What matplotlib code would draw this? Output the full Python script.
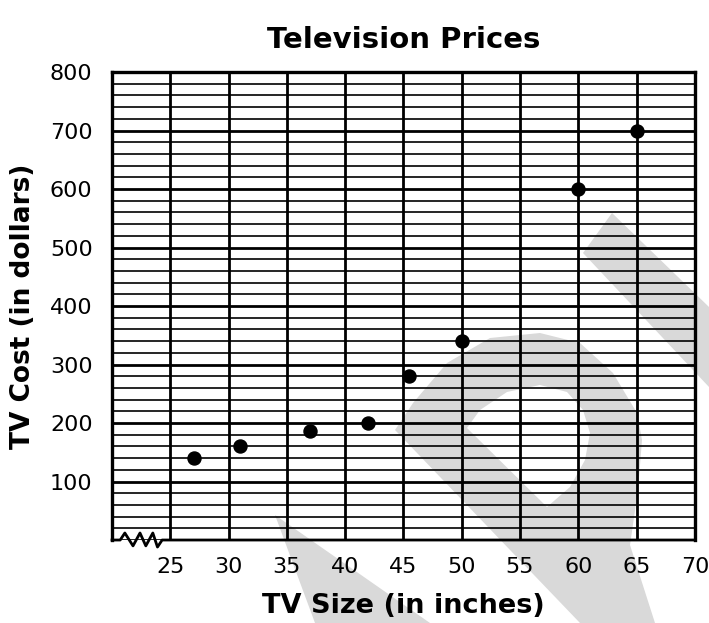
import matplotlib
matplotlib.use('Agg')
import matplotlib.pyplot as plt
from matplotlib.patches import Polygon

# data
tv_size = [27, 31, 37, 42, 45.5, 50, 60, 65]
tv_cost = [140, 160, 187, 200, 280, 340, 600, 700]

x_ticks = [25, 30, 35, 40, 45, 50, 55, 60, 65, 70]
y_ticks = [100, 200, 300, 400, 500, 600, 700, 800]

plt.rcParams['font.family'] = 'DejaVu Sans'

fig = plt.figure(figsize=(7.09, 6.23), dpi=100)
ax = fig.add_axes([0.158, 0.1332, 0.822, 0.7512])
ax.patch.set_alpha(0)

# light grey watermark behind the grid (image pixel coords)
def px(pts):
    return [(x / 709, 1 - y / 623) for x, y in pts]

wm = '#d9d9d9'
wedge_left = [(275, 515), (430, 623), (315, 623)]
band_right = [(583, 253), (612, 213), (709, 307), (709, 387)]
d_outer = [(580, 623), (395, 430), (413, 403), (447, 363), (490, 338), (540, 333),
           (580, 343), (613, 373), (637, 413), (642, 440), (638, 490), (630, 545), (655, 623)]
d_hole = [(467, 428), (480, 410), (507, 392), (540, 385), (567, 392), (583, 410),
          (590, 433), (585, 460), (570, 487), (547, 507)]
for pts, col in [(wedge_left, wm), (band_right, wm), (d_outer, wm), (d_hole, 'white')]:
    fig.patches.append(Polygon(px(pts), closed=True, facecolor=col, edgecolor='none',
                               transform=fig.transFigure, zorder=-1))

ax.scatter(tv_size, tv_cost, s=88, color='black', zorder=5)

ax.set_xlim(20, 70)
ax.set_ylim(0, 800)
ax.set_xticks(x_ticks)
ax.set_yticks(y_ticks)
ax.set_yticks(range(0, 801, 20), minor=True)
ax.grid(which='major', color='black', linewidth=2.0)
ax.grid(which='minor', axis='y', color='black', linewidth=1.2)
ax.set_axisbelow(True)
ax.tick_params(which='both', length=0, labelsize=16)
ax.tick_params(axis='y', pad=14)
ax.tick_params(axis='x', pad=12)

for side in ['left', 'right', 'top']:
    ax.spines[side].set_linewidth(2.4)
ax.spines['bottom'].set_visible(False)

# axis break at the bottom left
zig_x = [20, 20.7, 21.1, 21.8, 22.4, 22.9, 23.5, 23.9, 24.3, 70]
zig_y = [0, 0, 12, -10, 12, -10, 12, -12, 0, 0]
ax.plot(zig_x, zig_y, color='black', linewidth=2.0, clip_on=False, zorder=6)

ax.set_title('Television Prices', fontsize=21, fontweight='bold', pad=17)
ax.set_xlabel('TV Size (in inches)', fontsize=19.5, fontweight='bold', labelpad=12)
ax.set_ylabel('TV Cost (in dollars)', fontsize=19, fontweight='bold', labelpad=10)

fig.savefig('out.png', dpi=100)
